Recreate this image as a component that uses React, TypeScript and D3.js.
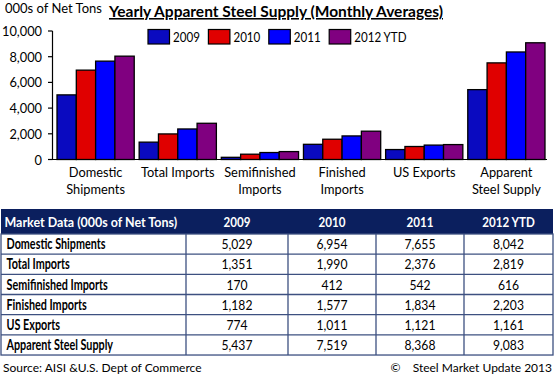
import React from "react";
import * as d3 from "d3";

const categories = ["Domestic Shipments", "Total Imports", "Semifinished Imports", "Finished Imports", "US Exports", "Apparent Steel Supply"];
const axisLabels = [["Domestic", "Shipments"], ["Total Imports"], ["Semifinished", "Imports"], ["Finished", "Imports"], ["US Exports"], ["Apparent", "Steel Supply"]];
const years = ["2009", "2010", "2011", "2012 YTD"];
const values2009 = [5029, 1351, 170, 1182, 774, 5437];
const values2010 = [6954, 1990, 412, 1577, 1011, 7519];
const values2011 = [7655, 2376, 542, 1834, 1121, 8368];
const values2012 = [8042, 2819, 616, 2203, 1161, 9083];
const yTicks = [0, 2000, 4000, 6000, 8000, 10000];
const colors = ["#0A0AC0", "#E00000", "#0000FF", "#800080"];

const FONT = "Lato, 'Open Sans', sans-serif";

export default function App() {
  const series = [values2009, values2010, values2011, values2012];
  const W = 557, H = 375;
  const y = d3.scaleLinear().domain([0, 10000]).range([159.5, 31]);
  const x0 = d3.scaleBand().domain(categories).range([57, 545]).paddingInner(0.06).paddingOuter(0);
  const x1 = d3.scaleBand().domain(years).range([0, x0.bandwidth()]).padding(0);
  const fmt = d3.format(",");

  const colX = [1, 186, 288, 376, 464, 553];
  const headerTop = 209, headerH = 25;
  const rowH = 20.17;
  const rowTop = headerTop + headerH;
  const tableBottom = rowTop + rowH * categories.length;
  const gridColor = "#3D5080";

  return (
    <div style={{ position: "absolute", left: 0, top: 0 }}>
      <svg width={W} height={H} style={{ display: "block", background: "#fff" }} fontFamily={FONT}>
        {/* y-axis title */}
        <text x={5} y={13} fontSize={13} fill="#000">000s of Net Tons</text>
        {/* title */}
        <text x={276} y={17} fontSize={15.5} fontWeight="bold" textAnchor="middle" fill="#000" textDecoration="underline">Yearly Apparent Steel Supply (Monthly Averages)</text>
        {/* legend */}
        {years.map((yr, i) => {
          const lx = 148 + i * 60.4;
          return (
            <g key={yr}>
              <rect x={lx} y={29.5} width={21.5} height={14.5} fill={colors[i]} stroke="#000" strokeWidth={1.2} />
              <text x={0} y={0} fontSize={13.5} fill="#000" transform={`translate(${lx + 25},42) scale(0.86,1)`}>{yr}</text>
            </g>
          );
        })}
        {/* y axis */}
        <line x1={52.5} x2={52.5} y1={y(10000)} y2={y(0)} stroke="#000" strokeWidth={1.2} />
        {yTicks.map((t) => (
          <g key={t}>
            <line x1={48} x2={52.5} y1={y(t)} y2={y(t)} stroke="#000" strokeWidth={1.2} />
            <text x={42} y={y(t) + 5} fontSize={12.8} textAnchor="end" fill="#000">{fmt(t)}</text>
          </g>
        ))}
        {/* bars */}
        {categories.map((c, ci) => (
          <g key={c} transform={`translate(${x0(c)},0)`}>
            {years.map((yr, si) => (
              <rect key={yr} x={x1(yr)} y={y(series[si][ci])} width={x1.bandwidth()} height={y(0) - y(series[si][ci])} fill={colors[si]} stroke="#000" strokeWidth={1.3} />
            ))}
          </g>
        ))}
        {/* x axis */}
        <line x1={52} x2={547} y1={159.5} y2={159.5} stroke="#000" strokeWidth={1.2} />
        {categories.map((c, ci) => (
          <text key={c} x={(x0(c) as number) + x0.bandwidth() / 2} textAnchor="middle" fontSize={12.8} fill="#000">
            {axisLabels[ci].map((l, li) => (
              <tspan key={li} x={(x0(c) as number) + x0.bandwidth() / 2} y={176.5 + li * 17.3}>{l}</tspan>
            ))}
          </text>
        ))}
        {/* table header */}
        <rect x={colX[0]} y={headerTop} width={colX[5] - colX[0]} height={headerH} fill="#0B1F5E" />
        <text x={0} y={0} fontSize={14} fontWeight="bold" fill="#fff" transform={`translate(4.5,${headerTop + 18}) scale(0.89,1)`}>Market Data (000s of Net Tons)</text>
        {years.map((yr, i) => (
          <text key={yr} x={0} y={0} fontSize={13.5} fontWeight="bold" fill="#fff" textAnchor="middle" transform={`translate(${(colX[i + 1] + colX[i + 2]) / 2},${headerTop + 17.5}) scale(0.86,1)`}>{yr}</text>
        ))}
        {/* table body */}
        {categories.map((c, ri) => {
          const ty = rowTop + ri * rowH;
          return (
            <g key={c}>
              <text x={0} y={0} fontSize={14.2} fontWeight="bold" fill="#000" transform={`translate(6.5,${ty + 15.3}) scale(0.76,1)`}>{c}</text>
              {series.map((s, si) => (
                <text key={si} x={0} y={0} fontSize={13.5} fill="#000" textAnchor="middle" transform={`translate(${(colX[si + 1] + colX[si + 2]) / 2},${ty + 15.3}) scale(0.9,1)`}>{fmt(s[ri])}</text>
              ))}
              {ri > 0 && <line x1={colX[0]} x2={colX[5]} y1={ty} y2={ty} stroke={gridColor} strokeWidth={1.3} />}
            </g>
          );
        })}
        {colX.slice(1, 5).map((cx, i) => (
          <line key={i} x1={cx} x2={cx} y1={rowTop} y2={tableBottom} stroke={gridColor} strokeWidth={1.3} />
        ))}
        <rect x={colX[0]} y={rowTop} width={colX[5] - colX[0]} height={tableBottom - rowTop} fill="none" stroke={gridColor} strokeWidth={1.3} />
        {/* footer */}
        <text x={3} y={372} fontSize={12} fill="#000">Source:  AISI &amp;U.S. Dept of Commerce</text>
        <text x={552} y={372} fontSize={12} fill="#000" textAnchor="end" xmlSpace="preserve">©    Steel Market Update 2013</text>
      </svg>
    </div>
  );
}
